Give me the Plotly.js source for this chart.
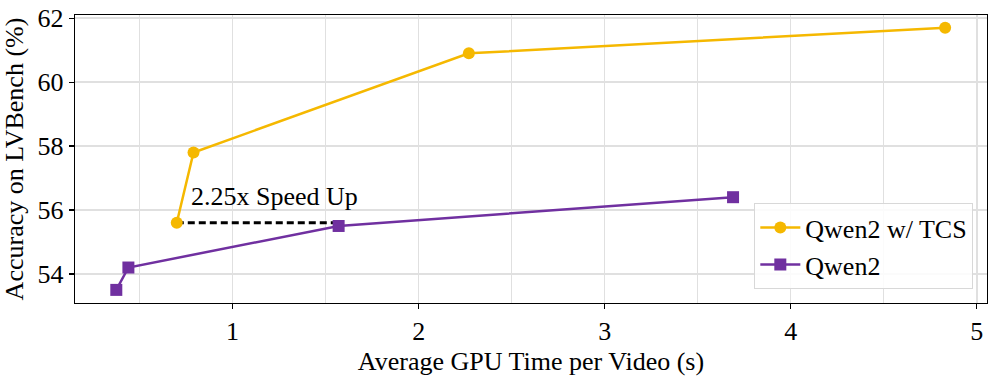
<!DOCTYPE html>
<html>
<head>
<meta charset="utf-8">
<script src="https://cdn.plot.ly/plotly-3.0.1.min.js"></script>
<style>
  body { margin: 0; background: #fff; }
  #chart { width: 997px; height: 376px; }
</style>
</head>
<body>
<div id="chart"></div>
<script>
// data
const tcsTime = [0.70, 0.79, 2.27, 4.83];
const tcsAcc = [55.6, 57.8, 60.9, 61.7];
const baseTime = [0.375, 0.44, 1.57, 3.69];
const baseAcc = [53.5, 54.2, 55.5, 56.4];

// speed-up marker: same accuracy, two different times
const speedX = [0.70, 1.57];
const speedY = [55.6, 55.6];
const speedLabel = '2.25x Speed Up';

const gold = '#F5B800';
const purple = '#7030A0';
const serif = 'Liberation Serif';
const fs = 26;

function draw() {
    const traces = [
        {
            x: speedX, y: speedY,
            type: 'scatter', mode: 'lines',
            line: { color: 'black', width: 3, dash: '7px,4px' },
            showlegend: false, hoverinfo: 'skip'
        },
        {
            x: tcsTime, y: tcsAcc,
            type: 'scatter', mode: 'lines+markers',
            name: 'Qwen2 w/ TCS',
            line: { color: gold, width: 2.5 },
            marker: { symbol: 'circle', size: 12, color: gold }
        },
        {
            x: baseTime, y: baseAcc,
            type: 'scatter', mode: 'lines+markers',
            name: 'Qwen2',
            line: { color: purple, width: 2.5 },
            marker: { symbol: 'square', size: 12, color: purple }
        }
    ];

    const layout = {
        width: 997, height: 376,
        margin: { l: 75, r: 10, t: 15, b: 73 },
        paper_bgcolor: 'white',
        plot_bgcolor: 'white',
        font: { family: serif, size: fs, color: 'black' },
        showlegend: true,
        legend: {
            x: 0.985, y: 0.048, xanchor: 'right', yanchor: 'bottom',
            bgcolor: 'rgba(255,255,255,0.85)',
            bordercolor: '#d8d8d8', borderwidth: 1,
            font: { family: serif, size: fs, color: 'black' },
            itemwidth: 40, tracegroupgap: 0
        },
        xaxis: {
            range: [0.153, 5.055],
            tickvals: [1, 2, 3, 4, 5],
            ticks: 'outside', ticklen: 5, tickwidth: 1.2, tickcolor: 'black',
            showline: true, linecolor: 'black', linewidth: 1.2, mirror: true,
            showgrid: true, gridcolor: '#e0e0e0', gridwidth: 1.5,
            minor: { dtick: 0.5, tick0: 0, showgrid: true, gridcolor: '#e0e0e0', gridwidth: 1.5, ticks: '' },
            zeroline: false,
            title: { text: 'Average GPU Time per Video (s)', standoff: 6, font: { family: serif, size: fs, color: 'black' } },
            tickfont: { family: serif, size: fs, color: 'black' }
        },
        yaxis: {
            range: [53.09, 62.1],
            tickvals: [54, 56, 58, 60, 62],
            ticks: 'outside', ticklen: 5, tickwidth: 1.2, tickcolor: 'black',
            showline: true, linecolor: 'black', linewidth: 1.2, mirror: true,
            showgrid: true, gridcolor: '#e0e0e0', gridwidth: 1.5,
            zeroline: false,
            title: { text: 'Accuracy on LVBench (%)', standoff: 6, font: { family: serif, size: fs, color: 'black' } },
            tickfont: { family: serif, size: fs, color: 'black' }
        },
        annotations: [{
            x: speedX[0] + 0.065, y: speedY[0] + 0.82,
            xref: 'x', yref: 'y',
            text: speedLabel, showarrow: false,
            xanchor: 'left', yanchor: 'middle',
            font: { family: serif, size: fs, color: 'black' }
        }]
    };

    Plotly.newPlot('chart', traces, layout, { displayModeBar: false, staticPlot: true });
}

window.onload = draw;
</script>
</body>
</html>
